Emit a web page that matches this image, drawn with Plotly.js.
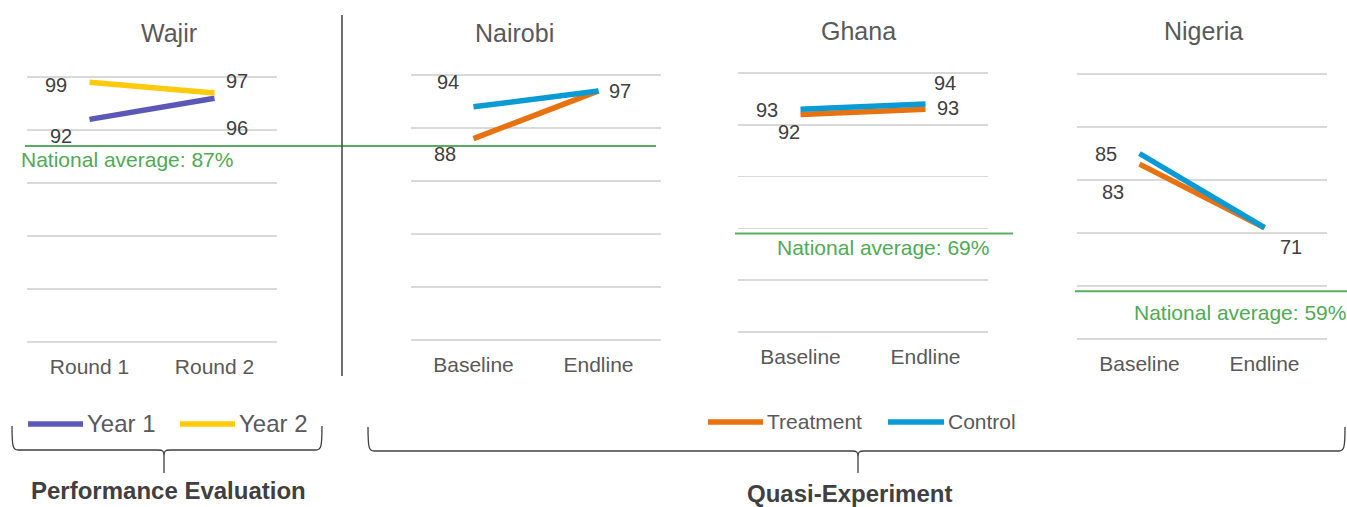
<!DOCTYPE html>
<html>
<head>
<meta charset="utf-8">
<script src="https://cdn.plot.ly/plotly-3.0.1.min.js"></script>
<style>html,body{margin:0;padding:0;background:#fff;}#chart{width:1347px;height:507px;}</style>
</head>
<body>
<div id="chart"></div>
<script>
// ---------------- DATA ----------------
const panelTitles = ['Wajir', 'Nairobi', 'Ghana', 'Nigeria'];
const wajirCategories = ['Round 1', 'Round 2'];
const qeCategories = ['Baseline', 'Endline'];

const wajirYear1 = [92, 96];
const wajirYear2 = [99, 97];
const nairobiTreatment = [88, 97];
const nairobiControl = [94, 97];
const ghanaTreatment = [92, 93];
const ghanaControl = [93, 94];
const nigeriaTreatment = [83, 71];
const nigeriaControl = [85, 71];

const kenyaNationalAverage = 87;   // Wajir & Nairobi
const ghanaNationalAverage = 69;
const nigeriaNationalAverage = 59;

const seriesNamesPE = ['Year 1', 'Year 2'];
const seriesNamesQE = ['Treatment', 'Control'];
const groupLabels = ['Performance Evaluation', 'Quasi-Experiment'];

// ---------------- STYLE / LAYOUT ----------------
const W = 1347, H = 507;
const px = x => x / W;
const py = y => 1 - y / H;
const FONT = 'Liberation Sans, Arial, sans-serif';
const COL = {
  year1: '#5b58b7', year2: '#ffc90c', treat: '#e8720f', ctrl: '#0a9bd4',
  green: '#5aad5f', greenText: '#4faa55', grid: '#d9d9d9', text: '#404040', axis: '#595959', dark: '#404040'
};
// plot boxes in pixels: [left, right, top(=100), bottom(=50)]
const boxes = [[27, 277, 77, 342], [411, 661, 75, 340], [738, 988, 73, 332], [1077, 1327, 74, 339]];
const Y_MIN = 50, Y_MAX = 100, Y_PAD = 0.5;

const layout = {
  width: W, height: H, autosize: false,
  margin: {l: 0, r: 0, t: 0, b: 0, pad: 0},
  paper_bgcolor: '#fff', plot_bgcolor: 'rgba(0,0,0,0)',
  showlegend: false,
  font: {family: FONT, color: COL.axis},
  shapes: [], annotations: []
};

boxes.forEach((b, i) => {
  const s = i === 0 ? '' : String(i + 1);
  const unit = (b[3] - b[2]) / (Y_MAX - Y_MIN);
  const pad = Y_PAD * unit;
  layout['xaxis' + s] = {
    domain: [px(b[0]), px(b[1])], anchor: 'y' + s, type: 'category',
    range: [-0.5, 1.5], showgrid: false, zeroline: false, showline: false, ticks: '',
    ticklabelstandoff: 7,
    tickfont: {family: FONT, size: 21, color: COL.axis}, fixedrange: true
  };
  layout['yaxis' + s] = {
    domain: [py(b[3] + pad), py(b[2] - pad)], anchor: 'x' + s, range: [Y_MIN - Y_PAD, Y_MAX + Y_PAD],
    tick0: 50, dtick: 10, showticklabels: false, ticks: '',
    showgrid: true, gridcolor: COL.grid, gridwidth: 1.5, zeroline: false, showline: false, fixedrange: true
  };
});

// ---------------- TRACES ----------------
function lineTrace(cats, vals, color, axisIdx, name) {
  const s = axisIdx === 0 ? '' : String(axisIdx + 1);
  return {type: 'scatter', mode: 'lines', x: cats, y: vals, name: name,
    xaxis: 'x' + s, yaxis: 'y' + s, line: {color: color, width: 5.5}, hoverinfo: 'x+y+name'};
}
const traces = [
  lineTrace(wajirCategories, wajirYear1, COL.year1, 0, seriesNamesPE[0]),
  lineTrace(wajirCategories, wajirYear2, COL.year2, 0, seriesNamesPE[1]),
  lineTrace(qeCategories, nairobiTreatment, COL.treat, 1, seriesNamesQE[0]),
  lineTrace(qeCategories, nairobiControl, COL.ctrl, 1, seriesNamesQE[1]),
  lineTrace(qeCategories, ghanaTreatment, COL.treat, 2, seriesNamesQE[0]),
  lineTrace(qeCategories, ghanaControl, COL.ctrl, 2, seriesNamesQE[1]),
  lineTrace(qeCategories, nigeriaTreatment, COL.treat, 3, seriesNamesQE[0]),
  lineTrace(qeCategories, nigeriaControl, COL.ctrl, 3, seriesNamesQE[1])
];

// ---------------- DATA LABELS ----------------
// label offsets (pixels) per point: [xshift, yshift], null = label hidden (overlapping)
function addLabels(cats, vals, axisIdx, shifts) {
  const s = axisIdx === 0 ? '' : String(axisIdx + 1);
  vals.forEach((v, k) => {
    if (!shifts[k]) return;
    layout.annotations.push({
      xref: 'x' + s, yref: 'y' + s, x: cats[k], y: v, text: String(v), showarrow: false,
      xanchor: 'center', yanchor: 'middle', xshift: shifts[k][0], yshift: shifts[k][1],
      font: {family: FONT, size: 20, color: COL.text}
    });
  });
}
addLabels(wajirCategories, wajirYear1, 0, [[-29, -17], [22, -30]]);
addLabels(wajirCategories, wajirYear2, 0, [[-34, -3], [22, 12]]);
addLabels(qeCategories, nairobiTreatment, 1, [[-29, -15], [21, 0]]);
addLabels(qeCategories, nairobiControl, 1, [[-26, 25], null]);
addLabels(qeCategories, ghanaTreatment, 2, [[-12, -18], [22, 1]]);
addLabels(qeCategories, ghanaControl, 2, [[-34, -1], [19, 21]]);
addLabels(qeCategories, nigeriaTreatment, 3, [[-27, -28], [26, -19]]);
addLabels(qeCategories, nigeriaControl, 3, [[-34, 0], null]);

// ---------------- PANEL TITLES ----------------
const titlePos = [[169, 33], [514, 33], [858, 31], [1203, 31]];
panelTitles.forEach((t, i) => {
  layout.annotations.push({xref: 'paper', yref: 'paper', x: px(titlePos[i][0]), y: py(titlePos[i][1]),
    text: t, showarrow: false, xanchor: 'center', yanchor: 'middle',
    font: {family: FONT, size: 25, color: COL.axis}});
});

// ---------------- NATIONAL AVERAGE LINES ----------------
function natAvg(value, axisRef, x0, x1, labelX, anchor, yshift) {
  layout.shapes.push({type: 'line', xref: 'paper', yref: axisRef, x0: px(x0), x1: px(x1), y0: value, y1: value,
    line: {color: COL.green, width: 2}});
  layout.annotations.push({xref: 'paper', yref: axisRef, x: px(labelX), y: value, yshift: yshift,
    text: 'National average: ' + value + '%', showarrow: false, xanchor: anchor, yanchor: 'middle',
    font: {family: FONT, size: 21, color: COL.greenText}});
}
natAvg(kenyaNationalAverage, 'y', 25, 656, 19, 'left', -14);
natAvg(ghanaNationalAverage, 'y3', 735, 1013, 991, 'right', -14);
natAvg(nigeriaNationalAverage, 'y4', 1075, 1347, 1348, 'right', -21);

// ---------------- DIVIDER ----------------
layout.shapes.push({type: 'line', xref: 'paper', yref: 'paper', x0: px(342), x1: px(342), y0: py(15), y1: py(376),
  line: {color: COL.dark, width: 1.5}});

// ---------------- LEGENDS (drawn) ----------------
function legendItem(x0, x1, y, color, text, size) {
  layout.shapes.push({type: 'line', xref: 'paper', yref: 'paper', x0: px(x0), x1: px(x1), y0: py(y), y1: py(y),
    line: {color: color, width: 5.5}});
  layout.annotations.push({xref: 'paper', yref: 'paper', x: px(x1 + 2), y: py(y - 1), text: text, showarrow: false,
    xanchor: 'left', yanchor: 'middle', font: {family: FONT, size: size, color: COL.axis}});
}
legendItem(28, 83, 424, COL.year1, seriesNamesPE[0], 24);
legendItem(180, 235, 424, COL.year2, seriesNamesPE[1], 24);
legendItem(708, 763, 422, COL.treat, seriesNamesQE[0], 21);
legendItem(888, 944, 422, COL.ctrl, seriesNamesQE[1], 21);

// ---------------- BRACES ----------------
function pt(x, y) { return px(x).toFixed(5) + ',' + py(y).toFixed(5); }
function brace(x0, x1, tip, yTop, yMid, yBot) {
  const d = 'M' + pt(x0, yTop) +
    ' C' + pt(x0, yMid - 3) + ' ' + pt(x0 + 1, yMid) + ' ' + pt(x0 + 6, yMid) +
    ' L' + pt(tip - 6, yMid) +
    ' C' + pt(tip - 1, yMid) + ' ' + pt(tip, yMid + 1) + ' ' + pt(tip, yMid + 6) +
    ' L' + pt(tip, yBot) +
    ' M' + pt(tip, yMid + 6) +
    ' C' + pt(tip, yMid + 1) + ' ' + pt(tip + 1, yMid) + ' ' + pt(tip + 6, yMid) +
    ' L' + pt(x1 - 6, yMid) +
    ' C' + pt(x1 - 1, yMid) + ' ' + pt(x1, yMid - 3) + ' ' + pt(x1, yTop);
  layout.shapes.push({type: 'path', xref: 'paper', yref: 'paper', path: d, line: {color: COL.dark, width: 1.3}});
}
brace(12, 322, 164, 426, 450, 473);
brace(368, 1345, 858, 427, 451, 473);

layout.annotations.push({xref: 'paper', yref: 'paper', x: px(168), y: py(490), text: '<b>' + groupLabels[0] + '</b>',
  showarrow: false, xanchor: 'center', yanchor: 'middle', font: {family: FONT, size: 24, color: COL.text}});
layout.annotations.push({xref: 'paper', yref: 'paper', x: px(849), y: py(493), text: '<b>' + groupLabels[1] + '</b>',
  showarrow: false, xanchor: 'center', yanchor: 'middle', font: {family: FONT, size: 24, color: COL.text}});

Plotly.newPlot('chart', traces, layout, {displayModeBar: false, staticPlot: true});
</script>
</body>
</html>
